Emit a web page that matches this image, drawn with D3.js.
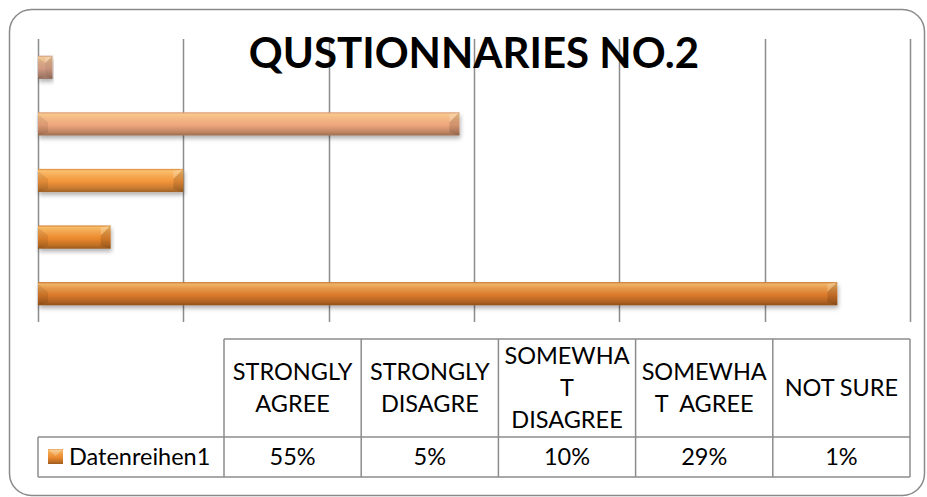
<!DOCTYPE html>
<html>
<head>
<meta charset="utf-8">
<script src="https://cdn.jsdelivr.net/npm/d3@7"></script>
<style>
  html, body { margin: 0; padding: 0; background: #fff; }
  svg { display: block; }
  text { font-family: Lato, "Open Sans", sans-serif; fill: #000; }
</style>
</head>
<body>
<svg id="chart" width="927" height="497"></svg>
<script>
// ---- data ----
const title = "QUSTIONNARIES NO.2";
const seriesName = "Datenreihen1";
const categories = ["STRONGLY AGREE", "STRONGLY DISAGRE", "SOMEWHAT DISAGREE", "SOMEWHAT  AGREE", "NOT SURE"];
const headerLines = [["STRONGLY", "AGREE"], ["STRONGLY", "DISAGRE"], ["SOMEWHA", "T", "DISAGREE"], ["SOMEWHA", "T  AGREE"], ["NOT SURE"]];
const values = [55, 5, 10, 29, 1];
const valueLabels = ["55%", "5%", "10%", "29%", "1%"];
const xTicks = [0, 10, 20, 30, 40, 50, 60];

// ---- styles ----
const barColors = ["#DB7A2A", "#EC8A2E", "#F3953A", "#EFA67C", "#E2A78E"];
const gridColor = "#8c8c8c";

const svg = d3.select("#chart");
const defs = svg.append("defs");

const sh = defs.append("filter").attr("id", "shadow")
  .attr("x", "-5%").attr("y", "-30%").attr("width", "110%").attr("height", "180%");
sh.append("feDropShadow").attr("dx", 1).attr("dy", 3).attr("stdDeviation", 2)
  .attr("flood-color", "#000").attr("flood-opacity", 0.3);

function grad(id, c) {
  const base = d3.color(c);
  const g = defs.append("linearGradient").attr("id", id)
    .attr("x1", 0).attr("y1", 0).attr("x2", 0).attr("y2", 1);
  const hi = d3.interpolateRgb(base, "#FFE49A")(0.55);
  const stops = [
    [0, base.darker(0.3)],
    [0.08, hi],
    [0.3, d3.interpolateRgb(base, "#FFE49A")(0.25)],
    [0.55, base],
    [0.85, base.darker(0.6)],
    [1, base.darker(1.2)]
  ];
  stops.forEach(([o, col]) => g.append("stop").attr("offset", o).attr("stop-color", col));
}
barColors.forEach((c, i) => grad("g" + i, c));

// frame
svg.append("rect").attr("x", 9.5).attr("y", 9.5).attr("width", 915).attr("height", 486)
  .attr("rx", 22).attr("ry", 22).attr("fill", "#fff").attr("stroke", "#8a8a8a").attr("stroke-width", 1.5);

// scales
const plotLeft = 38, plotRight = 910, plotTop = 39, plotBottom = 322;
const x = d3.scaleLinear().domain([0, 60]).range([plotLeft, plotRight]);
const y = d3.scaleBand().domain(categories.slice().reverse()).range([plotTop, plotBottom]).paddingInner(0.59).paddingOuter(0.295);

// gridlines
svg.append("g").selectAll("line").data(xTicks).join("line")
  .attr("x1", d => Math.round(x(d)) + 0.5).attr("x2", d => Math.round(x(d)) + 0.5)
  .attr("y1", plotTop).attr("y2", plotBottom)
  .attr("stroke", gridColor).attr("stroke-width", 1.5);

// title
svg.append("text").attr("x", (plotLeft + plotRight) / 2).attr("y", 68)
  .attr("text-anchor", "middle").attr("font-weight", "bold").attr("font-size", 42)
  .text(title);

// bars
const bars = svg.append("g").selectAll("g").data(values).join("g");
bars.each(function (v, i) {
  const g = d3.select(this);
  const x0 = x(0), x1 = x(v), y0 = y(categories[i]), h = y.bandwidth(), y1 = y0 + h;
  const b = Math.min(10, (x1 - x0) / 2);
  g.append("rect").attr("x", x0).attr("y", y0).attr("width", x1 - x0).attr("height", h)
    .attr("fill", `url(#g${i})`).attr("filter", "url(#shadow)");
  // right bevel
  g.append("polygon")
    .attr("points", [[x1, y0], [x1, y1], [x1 - b, y1 - 3], [x1 - b, y0 + b]].map(p => p.join(",")).join(" "))
    .attr("fill", "#000").attr("opacity", 0.12);
  g.append("polygon")
    .attr("points", [[x1, y0], [x1 - b, y0 + b], [x1 - b, y0 + 2]].map(p => p.join(",")).join(" "))
    .attr("fill", "#fff").attr("opacity", 0.2);
  // left bevel
  g.append("polygon")
    .attr("points", [[x0, y0 + 2], [x0 + b, y0 + b], [x0 + b, y1 - 3], [x0, y1]].map(p => p.join(",")).join(" "))
    .attr("fill", "#000").attr("opacity", 0.08);
});

// data table
const tTop = 339, tMid = 437, tBot = 477, tLeft = 224, legLeft = 38;
const colW = (plotRight - tLeft) / categories.length;
const tg = svg.append("g").attr("stroke", gridColor).attr("stroke-width", 1.5);
tg.append("line").attr("x1", tLeft).attr("x2", plotRight).attr("y1", tTop).attr("y2", tTop);
tg.append("line").attr("x1", legLeft).attr("x2", plotRight).attr("y1", tMid).attr("y2", tMid);
tg.append("line").attr("x1", legLeft).attr("x2", plotRight).attr("y1", tBot).attr("y2", tBot);
tg.append("line").attr("x1", legLeft).attr("x2", legLeft).attr("y1", tMid).attr("y2", tBot);
tg.selectAll("line.v").data(d3.range(categories.length + 1)).join("line").attr("class", "v")
  .attr("x1", d => tLeft + d * colW).attr("x2", d => tLeft + d * colW)
  .attr("y1", tTop).attr("y2", tBot);

const fs = 23.5, lh = 32;
headerLines.forEach((lines, i) => {
  const cx = tLeft + (i + 0.5) * colW;
  const cy = (tTop + tMid) / 2;
  const t = svg.append("text").attr("text-anchor", "middle").attr("font-size", fs);
  lines.forEach((ln, j) => {
    t.append("tspan").attr("x", cx)
      .attr("y", cy + (j - (lines.length - 1) / 2) * lh + fs * 0.36)
      .attr("xml:space", "preserve").text(ln);
  });
  svg.append("text").attr("x", cx).attr("y", (tMid + tBot) / 2 + fs * 0.36)
    .attr("text-anchor", "middle").attr("font-size", fs).text(valueLabels[i]);
});

// legend key
const lg = svg.append("g");
lg.append("rect").attr("x", 48).attr("y", 449).attr("width", 15).attr("height", 15).attr("fill", "url(#g1)");
lg.append("polygon").attr("points", "48,449 63,449 55.5,456").attr("fill", "#fff").attr("opacity", 0.25);
lg.append("text").attr("x", 69).attr("y", (tMid + tBot) / 2 + fs * 0.36).attr("font-size", fs).text(seriesName);
</script>
</body>
</html>
